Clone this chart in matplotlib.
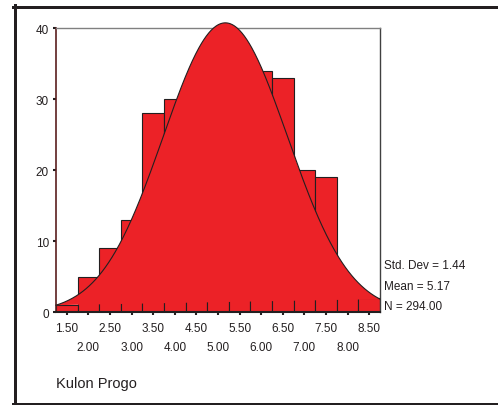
import numpy as np
import matplotlib
matplotlib.use("Agg")
import matplotlib.pyplot as plt
from matplotlib.lines import Line2D

plt.rcParams['font.family'] = ['Liberation Sans', 'DejaVu Sans']

# ---- data ----
bin_centers = [1.5, 2.0, 2.5, 3.0, 3.5, 4.0, 4.5, 5.0, 5.5, 6.0, 6.5, 7.0, 7.5, 8.0, 8.5]
counts = [1, 5, 9, 13, 28, 30, 31, 33, 32, 34, 33, 20, 19, 4, 2]
tick_labels = ["1.50", "2.00", "2.50", "3.00", "3.50", "4.00", "4.50", "5.00",
               "5.50", "6.00", "6.50", "7.00", "7.50", "8.00", "8.50"]
y_ticks = [0, 10, 20, 30, 40]
std_dev = 1.44
mean = 5.17
n_total = 294.00
bin_width = 0.5
group_label = "Kulon Progo"

red = "#ec2227"
dark = "#231f20"

fig = plt.figure(figsize=(4.98, 4.06), dpi=100)
W, H = 498, 406

def fx(px):
    return px / W

def fy(py):
    return 1 - py / H

ax = fig.add_axes([fx(56), fy(313.3), fx(380) - fx(56), fy(29) - fy(313.3)])

xmin = bin_centers[0] - bin_width / 2
xmax = bin_centers[-1] + bin_width / 2

ax.bar(bin_centers, counts, width=bin_width, color=red, edgecolor=dark,
       linewidth=0.8, zorder=2)

# normal curve, filled as a closed polygon (chord between its end points)
xs = np.linspace(xmin, xmax, 400)
ys = n_total * bin_width * np.exp(-0.5 * ((xs - mean) / std_dev) ** 2) / (std_dev * np.sqrt(2 * np.pi))
ax.fill(xs, ys, color=red, linewidth=0, zorder=3, clip_on=False)
ax.plot(xs, ys, color=dark, linewidth=0.8, zorder=4, clip_on=False)

ax.set_xlim(xmin, xmax)
ax.set_ylim(0, 40)

ax.set_yticks(y_ticks)
ax.set_yticklabels([str(v) for v in y_ticks], fontsize=8.5, color=dark)
ax.tick_params(axis='y', length=2, width=1.5, pad=3, color=dark)

ax.set_xticks(bin_centers)
ax.set_xticklabels([])
ax.tick_params(axis='x', length=2, width=1.5, color=dark)

for i, (c, lab) in enumerate(zip(bin_centers, tick_labels)):
    off = 16 if i % 2 == 0 else 35
    ax.annotate(lab, xy=(c, 0), xycoords=('data', 'axes fraction'),
                xytext=(0, -off * 72 / 100), textcoords='offset points',
                ha='center', va='center', fontsize=8.5, color=dark)

ax.spines['top'].set_color('#808080')
ax.spines['right'].set_color('#404040')
ax.spines['left'].set_color('#5a1f1f')
ax.spines['bottom'].set_color(dark)
for s in ax.spines.values():
    s.set_linewidth(1.0)
ax.spines['bottom'].set_linewidth(1.5)
ax.spines['left'].set_linewidth(1.2)
ax.spines['bottom'].set_zorder(6)

# stats text
fig.text(fx(384), fy(266), f"Std. Dev = {std_dev:.2f}", fontsize=8.5, color=dark, va='center', ha='left')
fig.text(fx(384), fy(287), f"Mean = {mean:.2f}", fontsize=8.5, color=dark, va='center', ha='left')
fig.text(fx(384), fy(307), f"N = {n_total:.2f}", fontsize=8.5, color=dark, va='center', ha='left')

fig.text(fx(56), fy(384), group_label, fontsize=10.5, color=dark, va='center', ha='left')

# outer frame
lw = 3 * 72 / 100
fig.add_artist(Line2D([fx(13), fx(500)], [fy(7.5), fy(7.5)], color=dark, linewidth=lw))
fig.add_artist(Line2D([fx(14.5), fx(14.5)], [fy(6), fy(406)], color=dark, linewidth=lw))
fig.add_artist(Line2D([fx(13), fx(500)], [fy(404.5), fy(404.5)], color=dark, linewidth=lw))

fig.savefig("out.png", dpi=100)
